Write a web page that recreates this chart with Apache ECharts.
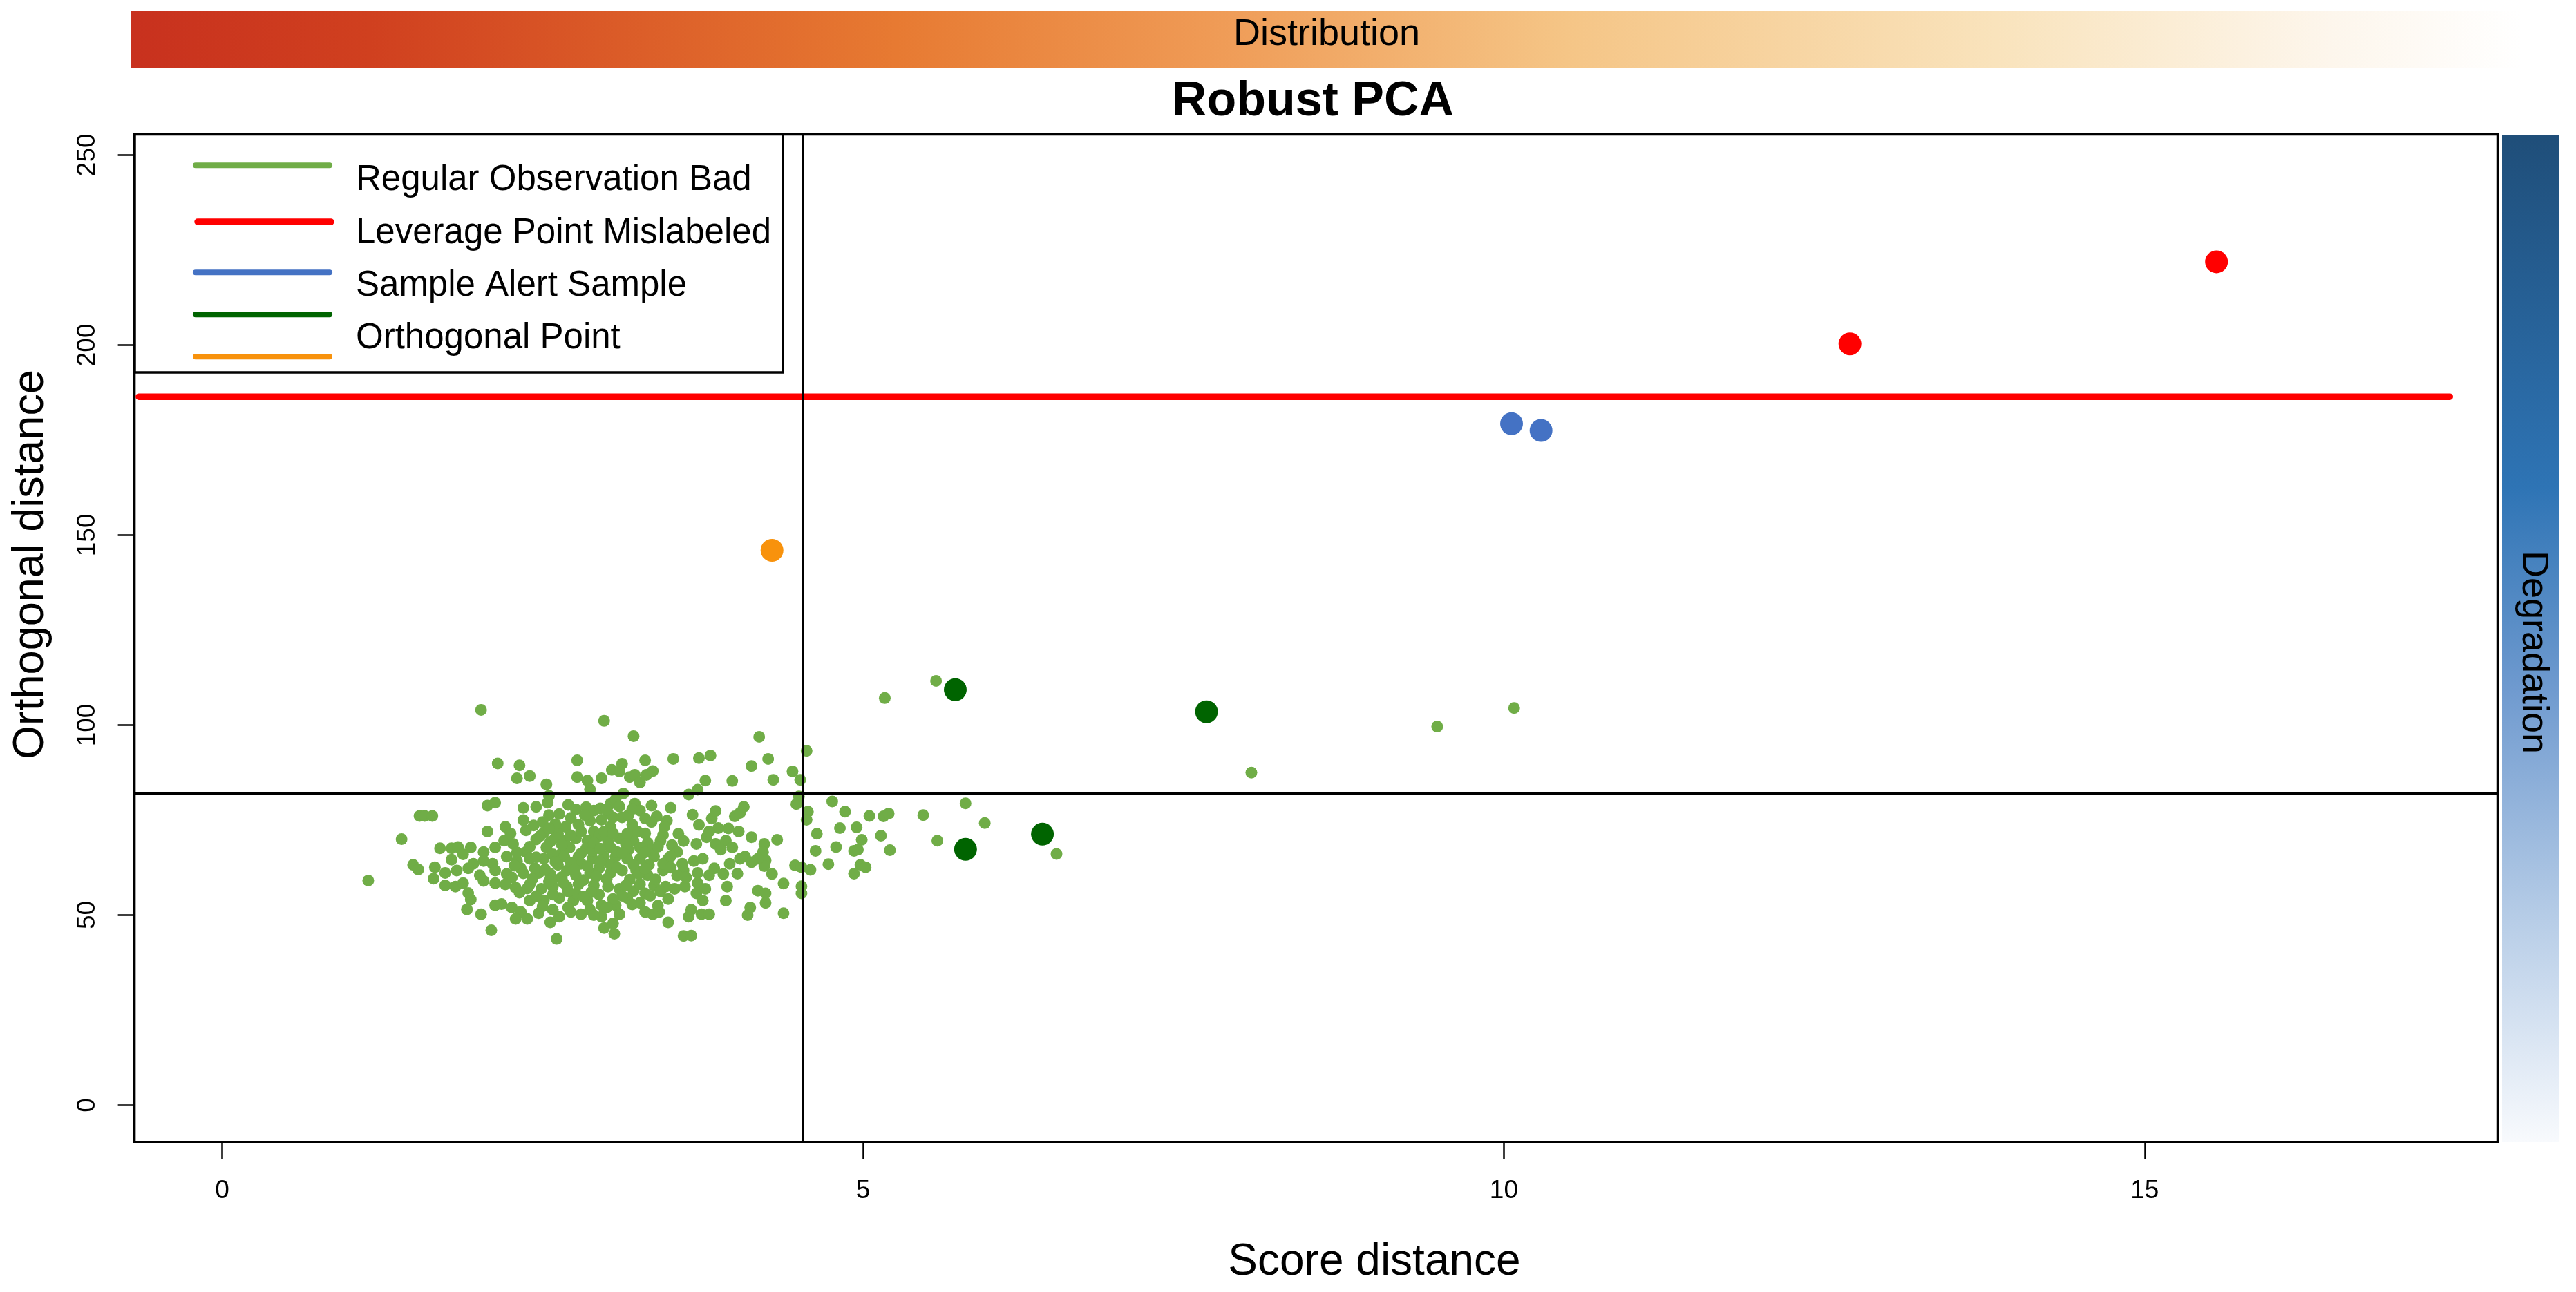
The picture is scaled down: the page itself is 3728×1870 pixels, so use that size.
<!DOCTYPE html>
<html>
<head>
<meta charset="utf-8">
<title>Robust PCA</title>
<script src="https://cdn.jsdelivr.net/npm/echarts@6/dist/echarts.min.js"></script>
<style>
  html, body { margin: 0; padding: 0; background: #fff; }
  #chart { width: 3728px; height: 1870px; }
</style>
</head>
<body>
<div id="chart"></div>
<script>
// axis ticks
const xTicks = [0, 5, 10, 15];
const yTicks = [0, 50, 100, 150, 200, 250];

// cutoff lines
const cutoffX = 4.528;
const cutoffY = 82.0;
const levelLineY = 186.4;
const levelLineX = [-0.65, 17.38];

// regular observations [score distance, orthogonal distance]
const regularPts = [
  [2.02,104.0],[2.98,101.1],[3.21,97.1],[2.15,89.9],[2.32,89.4],[2.30,86.0],[2.40,86.6],[2.53,84.4],
  [2.77,90.7],[2.77,86.3],[2.85,85.4],[2.87,83.1],[2.96,86.0],[3.04,88.2],[3.12,89.8],[3.10,87.8],
  [3.18,86.3],[3.22,86.9],[3.30,90.7],[3.26,84.9],[3.31,86.9],[3.36,87.9],[3.52,91.1],[3.72,91.3],
  [3.77,85.4],[3.71,83.0],[3.64,81.7],[3.13,82.0],[2.55,81.4],[2.54,79.6],
  [1.14,59.1],[1.40,70.0],[1.49,63.2],[1.53,62.0],[1.54,76.1],[1.58,76.1],[1.64,76.1],[1.70,67.6],
  [1.79,67.6],[1.84,67.9],[1.79,64.6],[1.83,61.7],[1.66,62.6],[1.65,59.6],[1.74,61.1],[1.74,57.8],
  [1.82,57.5],[1.88,58.4],[1.94,67.8],[1.88,66.0],[1.92,55.8],[1.94,54.1],[1.91,51.5],[2.02,50.2],
  [2.10,46.0],[2.07,72.0],[2.07,78.8],[2.13,79.6],[2.21,73.2],[2.35,78.2],[2.45,78.5],[2.61,43.7],
  [3.48,48.1],[3.60,44.5],[3.66,44.6],[3.50,78.2],[3.67,76.4],[3.72,73.7],[3.70,68.7],
  [2.70,79.0],[2.76,77.8],[2.84,78.4],[2.90,77.5],[2.95,78.1],[3.03,79.3],[3.07,80.5],[3.22,79.3],
  [3.26,77.5],[2.55,76.3],[2.63,76.6],[3.39,76.0],[3.47,74.8],[3.01,76.9],
  [2.43,73.6],[2.37,72.3],[2.51,71.7],[2.68,73.2],[2.78,73.8],[2.87,74.8],[2.96,75.1],[3.05,75.7],
  [3.12,75.7],[3.17,76.3],[3.30,75.4],[3.35,74.5],[3.24,72.0],[3.56,71.4],[3.44,71.1],[3.03,73.2],
  [2.90,72.0],
  [2.20,69.6],[2.27,68.7],[2.45,69.9],[2.56,69.3],[2.67,69.6],[2.76,70.2],[2.85,69.6],[2.94,70.8],
  [3.01,69.6],[3.10,70.2],[3.21,69.6],[3.32,69.0],[3.42,69.6],[3.51,68.4],[2.13,67.8],[2.04,66.6],
  [2.37,66.6],[2.65,66.3],[2.84,67.5],[3.03,67.8],[3.17,67.2],[3.26,67.8],
  [1.96,63.5],[2.04,64.2],[2.11,63.5],[2.22,65.4],[2.30,64.2],[2.40,64.8],[2.51,64.8],[2.67,65.4],
  [2.78,65.4],[2.89,64.8],[2.98,65.4],[3.07,65.4],[3.16,64.8],[3.26,64.8],[3.37,65.4],[3.48,64.8],
  [3.59,63.5],[3.68,64.2],[3.75,64.8],[2.80,63.5],[3.33,63.2],
  [1.92,62.3],[2.01,60.5],[2.13,61.7],[2.22,60.8],[2.33,62.3],[2.47,61.1],[2.56,60.8],[2.69,61.7],
  [2.76,60.5],[2.87,61.1],[2.94,62.3],[3.03,61.1],[3.12,61.7],[3.23,61.7],[3.32,60.5],[3.44,61.7],
  [3.60,61.7],[3.71,61.1],[2.04,59.0],[2.26,59.9],[3.71,58.4],
  [2.13,58.4],[2.21,58.1],[2.29,57.2],[2.40,58.1],[2.49,56.9],[2.58,57.5],[2.69,57.5],[2.78,58.1],
  [2.90,57.8],[3.01,57.5],[3.10,56.9],[3.21,56.3],[3.30,55.7],[3.37,57.8],[3.46,57.5],[3.53,56.9],
  [3.61,57.5],[3.70,55.7],[3.77,56.9],
  [2.40,53.8],[2.51,53.8],[2.63,54.5],[2.74,53.8],[2.85,53.8],[2.96,52.6],[3.07,52.6],[3.16,54.5],
  [3.26,53.2],[3.34,55.1],[3.48,54.2],[3.66,51.4],[3.75,53.8],
  [2.13,52.6],[2.18,52.9],[2.26,52.0],[2.33,50.8],[2.29,49.0],[2.38,49.0],[2.47,50.5],[2.58,51.4],
  [2.63,49.6],[2.56,48.1],[2.72,50.8],[2.80,50.2],[2.87,51.4],[2.96,49.6],[3.10,50.2],[3.05,47.8],
  [3.30,50.8],[3.36,50.2],[3.41,50.8],[3.64,49.6],[3.74,50.2],[2.98,46.6],[3.06,45.1],
  [2.62,71.4],[2.80,72.0],[2.98,72.0],[3.16,71.4],[2.71,67.8],[2.89,66.9],[3.08,66.6],[3.35,67.2],
  [2.62,63.2],[2.85,62.9],[3.03,63.2],[3.21,63.2],[2.76,55.7],[2.94,55.4],[3.12,55.1],[2.53,67.8],
  [2.44,62.3],[2.58,59.6],[3.26,58.1],[3.44,63.5],[3.55,66.6],[3.62,59.9],
  [2.35,75.0],[2.50,74.5],[2.60,73.9],[2.72,75.6],[2.83,76.3],[3.00,77.8],[3.10,78.6],[3.20,77.9],
  [3.35,78.8],[2.48,70.8],[2.60,70.4],[2.72,71.0],[2.90,69.0],[3.15,68.7],[3.30,71.5],[3.45,73.2],
  [3.60,69.5],[2.30,66.5],[2.45,65.2],[2.58,66.0],[2.72,63.8],[2.95,63.8],[3.12,66.3],[3.30,66.5],
  [3.50,62.5],[2.35,61.0],[2.52,62.0],[2.65,60.0],[2.82,59.2],[3.00,59.5],[3.18,59.3],[3.38,59.4],
  [3.55,60.4],[2.32,55.9],[2.45,55.0],[2.58,55.4],[2.70,56.2],[2.88,56.0],[3.05,54.2],[3.20,52.8],
  [3.40,52.5],[2.70,52.0],[2.90,50.0],[2.50,52.3],
  [2.25,71.5],[2.40,68.0],[2.55,72.8],[2.65,68.5],[2.80,66.2],[2.95,67.5],[3.05,71.5],[3.20,73.8],
  [3.40,68.0],[3.50,65.5],[2.28,63.0],[2.42,59.5],[2.60,64.0],[2.75,62.0],[2.92,60.2],[3.08,62.5],
  [3.25,60.8],[3.42,56.2],[2.38,57.0],[2.55,58.8],[2.82,54.8],[3.00,52.0],[3.15,57.8],[3.30,62.2],
  [2.66,58.6],
  [5.17,107.1],[5.57,111.6],[4.19,96.9],[4.56,93.2],[3.81,92.0],[4.13,89.2],[4.26,91.1],[4.45,87.8],
  [4.51,85.6],[3.98,85.3],[4.30,85.6],[4.50,81.2],[4.48,79.2],
  [4.76,79.9],[4.86,77.2],[5.05,76.1],[5.16,76.0],[5.20,76.7],[5.47,76.3],[5.80,79.4],[5.95,74.2],
  [5.58,69.6],[6.51,66.1],[4.57,77.2],[4.56,75.1],[4.64,71.4],[4.82,72.9],[4.95,73.1],[4.99,69.8],
  [5.14,70.9],[5.21,67.1],[4.63,66.9],[4.79,67.9],[4.93,66.9],[4.96,67.2],[4.73,63.4],[4.98,63.2],
  [5.02,62.6],[4.93,60.9],[4.59,61.9],[4.47,63.1],[4.52,62.6],[4.52,57.6],[4.52,55.7],[4.38,58.3],
  [4.38,50.5],[4.29,60.8],[4.33,69.8],[4.23,68.7],[4.22,66.6],[4.24,64.4],[4.23,62.9],[4.18,56.4],
  [4.24,55.7],[4.24,53.2],[4.12,52.0],[4.10,50.0],[3.94,57.5],[3.93,53.8],[3.80,50.2],[4.02,60.9],
  [3.91,60.8],[3.80,60.5],[3.84,62.3],[3.96,63.5],[4.04,64.8],[4.08,65.4],[4.13,63.9],[4.18,64.8],
  [4.13,70.5],[4.03,72.0],[3.95,72.8],[3.87,72.9],[3.78,70.5],[3.85,68.7],[3.93,69.6],[3.98,67.8],
  [3.89,67.2],[3.82,75.4],[3.85,77.4],[4.00,76.0],[4.04,76.9],[4.07,78.5],[3.80,72.0],
  [8.03,87.5],[9.48,99.6],[10.08,104.5]
];
const alertPts = [[5.72, 109.3], [7.68, 103.5], [5.80, 67.3], [6.40, 71.3]];
const samplePts = [[10.06, 179.3], [10.29, 177.5]];
const leveragePts = [[12.70, 200.3], [15.56, 221.9]];
const orthoPts = [[4.29, 146.0]];

const legendNames = ['Regular Observation Bad', 'Leverage Point Mislabeled', 'Sample Alert Sample', 'Orthogonal Point'];
const legendColors = ['#70AD47', '#FF0000', '#4472C4', '#006400', '#F8920C'];

const FONT = '"Liberation Sans", Arial, Helvetica, sans-serif';

const chart = echarts.init(document.getElementById('chart'));

// legend drawn by hand: five colour keys, four labels (as in the original)
const legendLineY = [239.3, 321, 394.3, 455.3, 516.3];
const legendTextY = [261, 337.7, 414.3, 490.3];
const legendGraphics = [
  {
    type: 'rect', z: 10,
    shape: { x: 195, y: 194.6, width: 938, height: 344.4 },
    style: { fill: '#fff', stroke: '#000', lineWidth: 3.5 }
  }
];
legendColors.forEach((c, i) => {
  legendGraphics.push({
    type: 'line', z: 11,
    shape: { x1: i === 1 ? 286 : 283, y1: legendLineY[i], x2: i === 1 ? 479 : 477, y2: legendLineY[i] },
    style: { stroke: c, lineWidth: i === 1 ? 9.5 : 8, lineCap: 'round' }
  });
});
legendNames.forEach((name, i) => {
  legendGraphics.push({
    type: 'text', z: 11, x: 515, y: legendTextY[i],
    style: { text: name, fontSize: 51, fontFamily: FONT, fill: '#000', align: 'left', verticalAlign: 'middle' }
  });
});

chart.setOption({
  animation: false,
  backgroundColor: '#fff',
  title: {
    text: 'Robust PCA',
    left: 1900,
    top: 113,
    padding: 0,
    textAlign: 'center',
    textStyle: { fontSize: 70, fontWeight: 'bold', fontFamily: FONT, color: '#000' }
  },
  grid: {
    left: 194.6, top: 194.6, right: 113.5, bottom: 216.7,
    show: true, borderColor: '#000', borderWidth: 3.5, backgroundColor: 'transparent'
  },
  xAxis: {
    type: 'value', min: -0.684, max: 17.753,
    axisLine: { show: false, onZero: false },
    splitLine: { show: false },
    axisTick: { show: true, length: 24, customValues: xTicks, lineStyle: { color: '#000', width: 2.5 } },
    axisLabel: { customValues: xTicks, margin: 52, fontSize: 37, fontFamily: FONT, color: '#000' }
  },
  yAxis: {
    type: 'value', min: -9.78, max: 255.4,
    axisLine: { show: false, onZero: false },
    splitLine: { show: false },
    axisTick: { show: true, length: 24, customValues: yTicks, lineStyle: { color: '#000', width: 2.5 } },
    axisLabel: { customValues: yTicks, rotate: 90, margin: 49, fontSize: 37, fontFamily: FONT, color: '#000' }
  },
  graphic: [
    {
      type: 'rect', shape: { x: 190, y: 16, width: 3460, height: 82.7 },
      style: {
        fill: new echarts.graphic.LinearGradient(0, 0, 1, 0, [
          { offset: 0, color: '#C8311E' },
          { offset: 0.1, color: '#D0401F' },
          { offset: 0.32, color: '#E77A32' },
          { offset: 0.45, color: '#EF9A55' },
          { offset: 0.6, color: '#F5C586' },
          { offset: 0.78, color: '#F9E3BC' },
          { offset: 0.92, color: '#FDF6EC' },
          { offset: 1, color: '#FFFFFF' }
        ])
      }
    },
    {
      type: 'text', x: 1920, y: 50,
      style: { text: 'Distribution', fontSize: 54, fontFamily: FONT, fill: '#000', align: 'center', verticalAlign: 'middle' }
    },
    {
      type: 'rect', shape: { x: 3621, y: 195, width: 83, height: 1458 },
      style: {
        fill: new echarts.graphic.LinearGradient(0, 0, 0, 1, [
          { offset: 0, color: '#1F4E79' },
          { offset: 0.35, color: '#2E74B5' },
          { offset: 0.55, color: '#6F9ACF' },
          { offset: 0.78, color: '#B7CDE7' },
          { offset: 1, color: '#F8FAFD' }
        ])
      }
    },
    {
      type: 'text', x: 3666, y: 944, rotation: -Math.PI / 2,
      style: { text: 'Degradation', fontSize: 54, fontFamily: FONT, fill: '#000', align: 'center', verticalAlign: 'middle' }
    },
    {
      type: 'text', x: 1989, y: 1827,
      style: { text: 'Score distance', fontSize: 64, fontFamily: FONT, fill: '#000', align: 'center', verticalAlign: 'middle' }
    },
    {
      type: 'text', x: 45, y: 817, rotation: Math.PI / 2,
      style: { text: 'Orthogonal distance', fontSize: 63, fontFamily: FONT, fill: '#000', align: 'center', verticalAlign: 'middle' }
    }
  ].concat(legendGraphics),
  series: [
    {
      name: 'Regular',
      type: 'scatter',
      data: regularPts,
      symbolSize: 17,
      itemStyle: { color: legendColors[0], opacity: 1 },
      silent: true,
      markLine: {
        silent: true,
        symbol: 'none',
        label: { show: false },
        lineStyle: { color: '#000', width: 3, type: 'solid' },
        data: [{ yAxis: cutoffY }, { xAxis: cutoffX }]
      }
    },
    {
      name: 'Leverage line',
      type: 'line',
      data: [[levelLineX[0], levelLineY], [levelLineX[1], levelLineY]],
      symbol: 'none',
      lineStyle: { color: '#FF0000', width: 9.5, cap: 'round' },
      silent: true
    },
    {
      name: 'Alert',
      type: 'scatter',
      data: alertPts,
      symbolSize: 33,
      itemStyle: { color: legendColors[3], opacity: 1 }
    },
    {
      name: 'Sample',
      type: 'scatter',
      data: samplePts,
      symbolSize: 33,
      itemStyle: { color: legendColors[2], opacity: 1 }
    },
    {
      name: 'Leverage',
      type: 'scatter',
      data: leveragePts,
      symbolSize: 33,
      itemStyle: { color: legendColors[1], opacity: 1 }
    },
    {
      name: 'Orthogonal',
      type: 'scatter',
      data: orthoPts,
      symbolSize: 33,
      itemStyle: { color: legendColors[4], opacity: 1 }
    }
  ]
});
</script>
</body>
</html>
